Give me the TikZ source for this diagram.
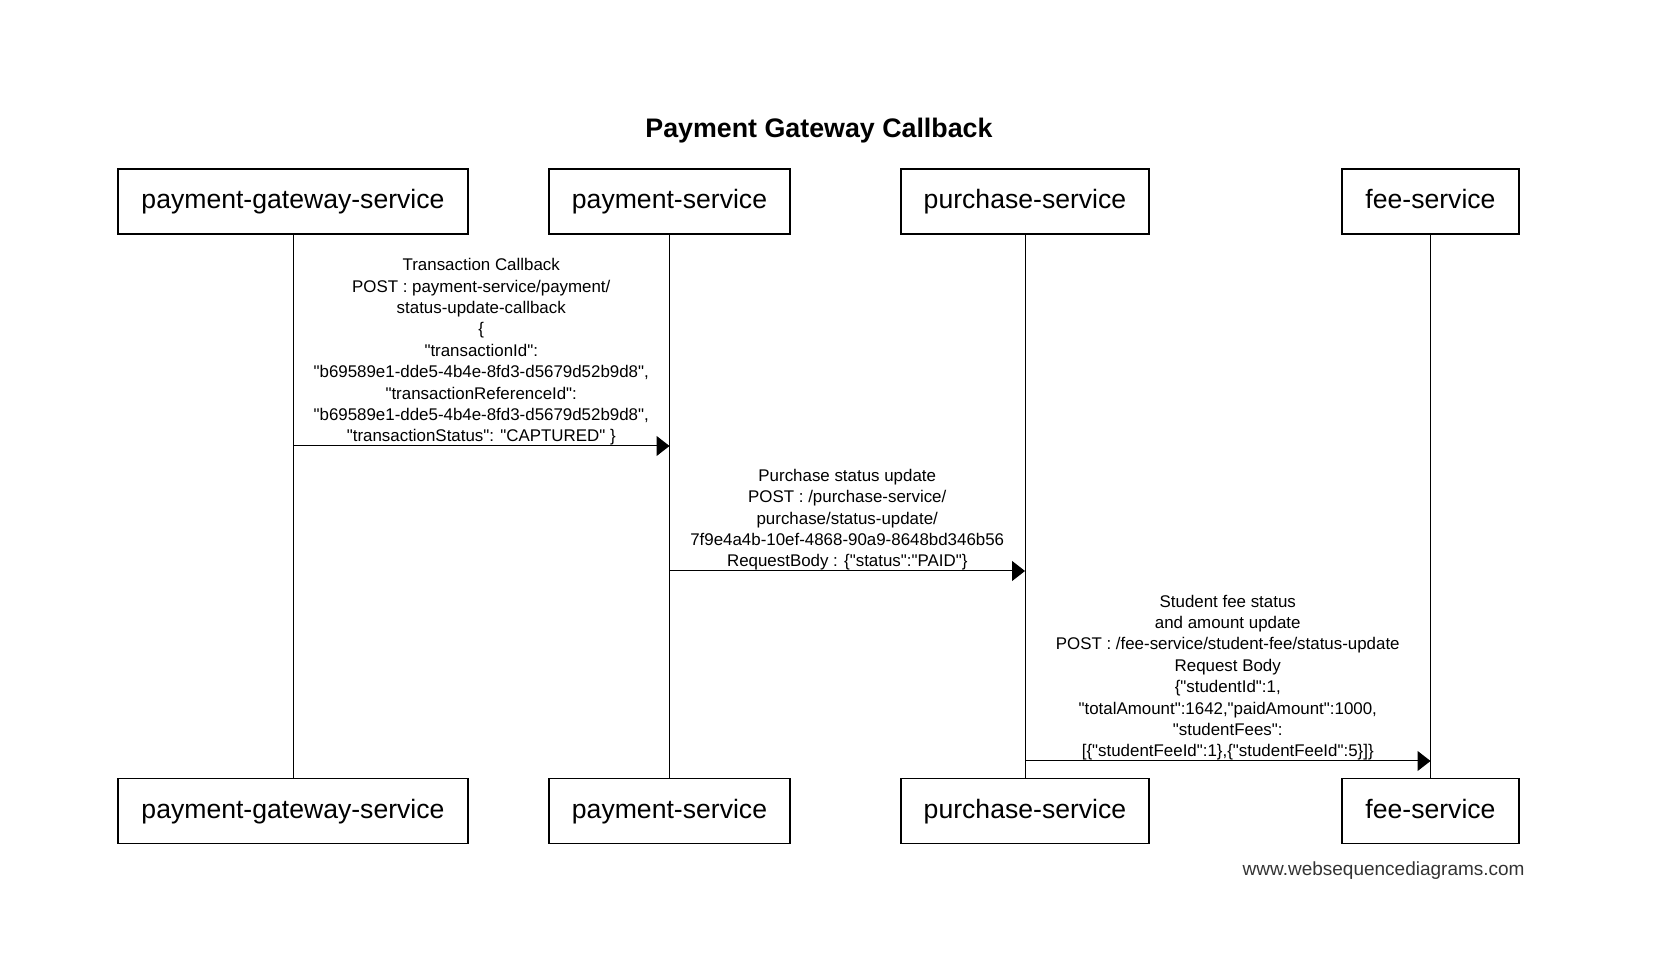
\documentclass[tikz,border=0pt]{standalone}
\usepackage{fontspec}
\setmainfont{Liberation Sans}[Ligatures=TeXOff]
\usetikzlibrary{arrows.meta}

\begin{document}
\begin{tikzpicture}[x=0.5pt,y=-0.5pt,
    actor/.style={draw,line width=0.6pt,minimum height=32.5pt,inner sep=0pt,
        text height=10.2pt,text depth=2.9pt,
        font=\fontsize{13.3}{15}\selectfont},
    msg/.style={line width=0.5pt,-{Triangle[length=6.5pt,width=10pt]}},
    msglabel/.style={above=0pt,align=center,inner sep=0pt,
        font=\fontsize{8.45}{10.7}\selectfont}]
    \useasboundingbox (0,0) rectangle (1656,956);

    % the title
    \node[font=\bfseries\fontsize{13.4}{15}\selectfont] (title) at (819,131) {Payment Gateway Callback};

    % participants at top and bottom, with their lifelines
    \foreach \name/\txt/\x/\w in {
        pgs/payment-gateway-service/293/175,
        ps/payment-service/669.5/120.5,
        pus/purchase-service/1025/124,
        fs/fee-service/1430.5/88.5} {
            \node[actor,minimum width=\w pt] (top-\name) at (\x,201.5) {\txt};
            \node[actor,minimum width=\w pt] (bot-\name) at (\x,811) {\txt};
            \draw[line width=0.5pt] (top-\name) -- (bot-\name);
    }

    % end points of the messages on the lifelines
    \coordinate (m1a) at (293,446);
    \coordinate (m1b) at (669.5,446);
    \coordinate (m2a) at (669.5,571);
    \coordinate (m2b) at (1025,571);
    \coordinate (m3a) at (1025,761);
    \coordinate (m3b) at (1430.5,761);

    % the messages
    \draw[msg] (m1a) -- node[msglabel] {Transaction Callback\\
        POST : payment-service/payment/\\
        status-update-callback\\
        \{\\
        "transactionId":\\
        "b69589e1-dde5-4b4e-8fd3-d5679d52b9d8",\\
        "transactionReferenceId":\\
        "b69589e1-dde5-4b4e-8fd3-d5679d52b9d8",\\
        "transactionStatus": "CAPTURED" \}} (m1b);
    \draw[msg] (m2a) -- node[msglabel] {Purchase status update\\
        POST : /purchase-service/\\
        purchase/status-update/\\
        7f9e4a4b-10ef-4868-90a9-8648bd346b56\\
        RequestBody : \{"status":"PAID"\}} (m2b);
    \draw[msg] (m3a) -- node[msglabel] {Student fee status\\
        and amount update\\
        POST : /fee-service/student-fee/status-update\\
        Request Body\\
        \{"studentId":1,\\
        "totalAmount":1642,"paidAmount":1000,\\
        "studentFees":\\
        {[}\{"studentFeeId":1\},\{"studentFeeId":5\}{]}\}} (m3b);

    % watermark
    \node[anchor=east,inner sep=0pt,text=black!80,font=\fontsize{9.5}{11}\selectfont] (mark) at (1525,871) {www.websequencediagrams.com};
\end{tikzpicture}
\end{document}
